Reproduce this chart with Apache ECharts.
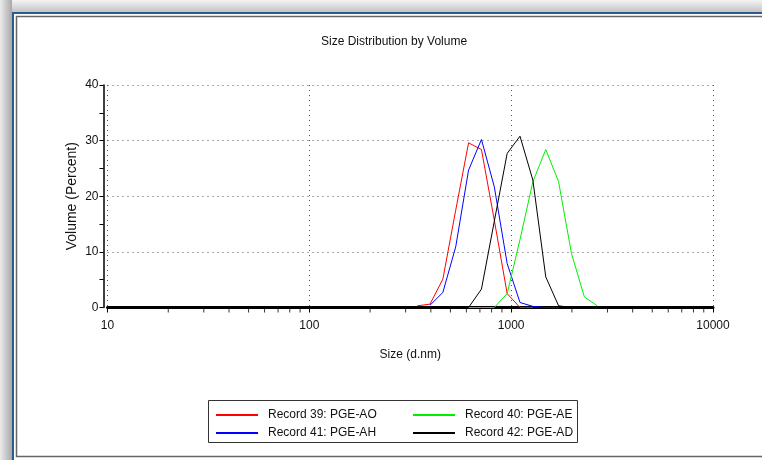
<!DOCTYPE html>
<html>
<head>
<meta charset="utf-8">
<script src="https://cdn.jsdelivr.net/npm/echarts@6/dist/echarts.min.js"></script>
<style>
  html, body { margin: 0; padding: 0; background: #fff; }
  #main { width: 762px; height: 460px; }
</style>
</head>
<body>
<div id="main"></div>
<script>
// size bins (d.nm) and % volume per record
var sizes = [342, 396.1, 458.7, 531.2, 615.1, 712.4, 825, 955.4, 1106, 1281, 1484, 1718, 1990, 2305, 2669, 3091];
var rec39 = [0.3, 0.6, 5.1, 17.5, 29.6, 28.4, 15.7, 2.5, 0, 0, null, null, null, null, null, null];
var rec41 = [null, 0.4, 2.7, 10.9, 24.7, 30.2, 21.7, 7.9, 0.9, 0.2, 0, 0, null, null, null, null];
var rec40 = [null, null, null, null, 0, 0, 0, 2.5, 12.2, 22.6, 28.4, 22.6, 9.7, 1.9, 0.3, null];
var rec42 = [null, null, null, null, 0, 3.3, 15.5, 27.7, 30.8, 22.9, 5.5, 0.3, 0, null, null, null];
var names = ['Record 39: PGE-AO', 'Record 41: PGE-AH', 'Record 40: PGE-AE', 'Record 42: PGE-AD'];
var colors = ['#ff0000', '#0000ff', '#00ee00', '#000000'];
var minorX = [20, 30, 40, 50, 60, 70, 80, 90, 200, 300, 400, 500, 600, 700, 800, 900,
              2000, 3000, 4000, 5000, 6000, 7000, 8000, 9000];

var font = "'Liberation Sans', Arial, sans-serif";

function pairs(vals) {
  var out = [];
  sizes.forEach(function (s, i) { if (vals[i] != null) out.push([s, vals[i]]); });
  return out;
}

function legendBox(left, data) {
  return {
    orient: 'vertical', left: left, top: 404,
    itemWidth: 42, itemHeight: 14, itemGap: 6,
    data: data,
    itemStyle: { opacity: 0 },
    textStyle: { fontFamily: font, fontSize: 12, color: '#111', padding: [0, 0, 0, 5] }
  };
}

var myChart = echarts.init(document.getElementById('main'));
var option = {
  backgroundColor: '#fff',
  animation: false,
  title: {
    text: 'Size Distribution by Volume',
    left: 316, top: 31,
    textStyle: { fontFamily: font, fontSize: 12, fontWeight: 'normal', color: '#111' }
  },
  graphic: [
    { type: 'rect', shape: { x: 0, y: 0, width: 762, height: 12 },
      style: { fill: new echarts.graphic.LinearGradient(0, 0, 0, 1, [
        { offset: 0, color: '#f4f4f4' }, { offset: 1, color: '#c4c4c4' }]) }, silent: true },
    { type: 'rect', shape: { x: 0, y: 0, width: 12, height: 460 },
      style: { fill: new echarts.graphic.LinearGradient(0, 0, 1, 0, [
        { offset: 0, color: '#ececec' }, { offset: 1, color: '#a8a8a8' }]) }, silent: true },
    { type: 'rect', shape: { x: 13, y: 13, width: 800, height: 500 },
      style: { fill: null, stroke: '#2b5b8c', lineWidth: 2 }, silent: true },
    { type: 'rect', shape: { x: 16.5, y: 16.5, width: 800, height: 440 },
      style: { fill: null, stroke: '#666', lineWidth: 1.5 }, silent: true },
    { type: 'rect', shape: { x: 208.5, y: 400.5, width: 369, height: 42 },
      style: { fill: '#fff', stroke: '#333', lineWidth: 1 }, silent: true, z: -1 }
  ],
  legend: [
    legendBox(210, [names[0], names[1]]),
    legendBox(407, [names[2], names[3]])
  ],
  grid: { left: 107.5, right: 49, top: 85, bottom: 152.5 },
  xAxis: {
    type: 'log', logBase: 10, min: 10, max: 10000,
    name: 'Size (d.nm)', nameLocation: 'middle', nameGap: 41, nameMoveOverlap: false,
    nameTextStyle: { fontFamily: font, fontSize: 12, color: '#111' },
    axisLine: { lineStyle: { color: '#000', width: 3 } },
    axisTick: { show: true, length: 5, lineStyle: { color: '#000' } },
    axisLabel: { fontFamily: font, fontSize: 12, color: '#111', margin: 12,
      formatter: function (v) { return String(v); } },
    splitLine: { show: true, lineStyle: { color: '#555', type: [1, 4], width: 1 } }
  },
  yAxis: {
    type: 'value', min: 0, max: 40, interval: 10, offset: 4,
    name: 'Volume (Percent)', nameLocation: 'middle', nameGap: 24, nameMoveOverlap: false,
    nameTextStyle: { fontFamily: font, fontSize: 14, color: '#111' },
    axisLine: { show: true, lineStyle: { color: '#000', width: 1.5 } },
    axisTick: { show: true, length: 4, lineStyle: { color: '#000' } },
    minorTick: { show: true, splitNumber: 2, length: 4, lineStyle: { color: '#000' } },
    axisLabel: { fontFamily: font, fontSize: 12, color: '#111', margin: 5 },
    splitLine: { show: true, lineStyle: { color: '#555', type: [1, 4], width: 1 } }
  },
  series: [
    { name: names[0], type: 'line', symbol: 'none', data: pairs(rec39),
      lineStyle: { color: colors[0], width: 1 }, itemStyle: { color: colors[0] } },
    { name: names[1], type: 'line', symbol: 'none', data: pairs(rec41),
      lineStyle: { color: colors[1], width: 1 }, itemStyle: { color: colors[1] } },
    { name: names[2], type: 'line', symbol: 'none', data: pairs(rec40),
      lineStyle: { color: colors[2], width: 1 }, itemStyle: { color: colors[2] } },
    { name: names[3], type: 'line', symbol: 'none', data: pairs(rec42),
      lineStyle: { color: colors[3], width: 1 }, itemStyle: { color: colors[3] } },
    { name: 'minor', type: 'scatter', silent: true, clip: false,
      symbol: 'rect', symbolSize: [1, 4], symbolOffset: [0, 3],
      itemStyle: { color: '#000' },
      data: minorX.map(function (v) { return [v, 0]; }) }
  ]
};
myChart.setOption(option);
</script>
</body>
</html>
